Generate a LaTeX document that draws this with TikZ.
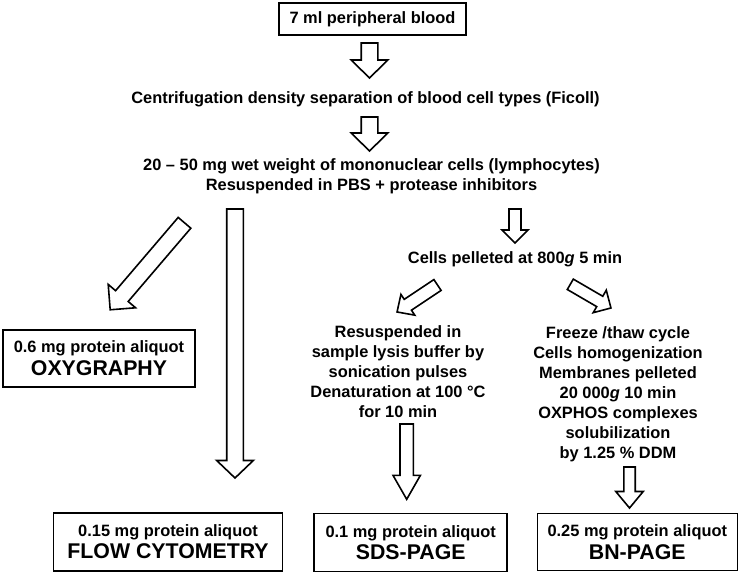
\documentclass[tikz,border=0pt]{standalone}
\usepackage{fontspec}
\setmainfont{Liberation Sans}
\usetikzlibrary{calc}

\newcommand\assay[1]{{\fontsize{21.3}{22.5}\selectfont #1}}

\tikzset{
  shaft half/.store in=\shafthalf, head half/.store in=\headhalf, head len/.store in=\headlen,
  shaft half=8.3, head half=18.3, head len=18,
  % hollow block arrow from start to tip
  blockarrow/.style={draw, line width=1.6pt, line join=miter,
    to path={let \p1=(\tikztostart), \p2=(\tikztotarget),
      \n1={atan2(\y2-\y1,\x2-\x1)}, \n2={veclen(\x2-\x1,\y2-\y1)} in
      {[shift={(\p1)}, rotate=\n1]
        (0pt,{\shafthalf*1pt}) -- ({(\n2-\headlen)*1pt},{\shafthalf*1pt})
        -- ({(\n2-\headlen)*1pt},{\headhalf*1pt}) -- ({\n2*1pt},0pt)
        -- ({(\n2-\headlen)*1pt},{-\headhalf*1pt}) -- ({(\n2-\headlen)*1pt},{-\shafthalf*1pt})
        -- (0pt,{-\shafthalf*1pt}) -- cycle}}},
  txt/.style={align=center, inner sep=0pt, font=\bfseries\fontsize{16.4}{20}\selectfont},
  box/.style={draw, line width=1.6pt, inner sep=0pt, align=center, font=\bfseries\fontsize{16.4}{22.5}\selectfont}
}

\begin{document}
\begin{tikzpicture}[x=1pt,y=-1pt]
	\useasboundingbox (0,0) rectangle (741,574);

	\node[box, minimum width=187pt, minimum height=32pt] (blood) at (372.5,19) {7 ml peripheral blood};
	\node[txt] (ficoll) at (365.5,99) {Centrifugation density separation of blood cell types (Ficoll)};
	\node[txt] (mono) at (371.5,176) {20 -- 50 mg wet weight of mononuclear cells (lymphocytes)\\Resuspended in PBS + protease inhibitors};
	\node[txt] (pellet) at (515,259) {Cells pelleted at 800\textit{g} 5 min};
	\node[txt] (sdsprep) at (398,372) {Resuspended in\\sample lysis buffer by\\sonication pulses\\Denaturation at 100 °C\\for 10 min};
	\node[txt] (bnprep) at (618,394.5) {Freeze /thaw cycle\\Cells homogenization\\Membranes pelleted\\20 000\textit{g} 10 min\\OXPHOS complexes\\solubilization\\by 1.25 \% DDM};

	\node[box, minimum width=192pt, minimum height=57pt] (oxy) at (99,358.3) {0.6 mg protein aliquot\\\assay{OXYGRAPHY}};
	\node[box, minimum width=229pt, minimum height=58pt] (flow) at (168,541.7) {0.15 mg protein aliquot\\\assay{FLOW CYTOMETRY}};
	\node[box, minimum width=193pt, minimum height=58pt] (sds) at (410.7,542.5) {0.1 mg protein aliquot\\\assay{SDS-PAGE}};
	\node[box, minimum width=200pt, minimum height=57pt] (bn) at (637.3,542) {0.25 mg protein aliquot\\\assay{BN-PAGE}};

	% arrow ends
	\coordinate (a1s) at (369.5,43);   \coordinate (a1e) at (369.5,78);
	\coordinate (a2s) at (369.5,117);  \coordinate (a2e) at (369.5,151);
	\coordinate (flows) at (235,209);  \coordinate (flowe) at (235,478);
	\coordinate (oxys) at (184.5,222.8); \coordinate (oxye) at (110,310);
	\coordinate (pels) at (515,209);   \coordinate (pele) at (515,243);
	\coordinate (sdss) at (437.5,285); \coordinate (sdse) at (397,312);
	\coordinate (bns) at (570.3,284.3); \coordinate (bne) at (611,308);
	\coordinate (sdsds) at (406.7,424); \coordinate (sdsde) at (406.7,499.3);
	\coordinate (bnds) at (629.5,467); \coordinate (bnde) at (629.5,508);

	\draw[blockarrow] (a1s) to (a1e);
	\draw[blockarrow] (a2s) to (a2e);
	\draw[blockarrow, head len=17.5] (flows) to (flowe);
	\draw[blockarrow, head half=18] (oxys) to (oxye);
	\draw[blockarrow, shaft half=6, head half=13, head len=13] (pels) to (pele);
	\draw[blockarrow, shaft half=6.5, head half=12.5, head len=13] (sdss) to (sdse);
	\draw[blockarrow, shaft half=6, head half=13, head len=13] (bns) to (bne);
	\draw[blockarrow, shaft half=6.7, head half=13.7, head len=24] (sdsds) to (sdsde);
	\draw[blockarrow, shaft half=5.7, head half=13.7, head len=16.5] (bnds) to (bnde);
\end{tikzpicture}
\end{document}
